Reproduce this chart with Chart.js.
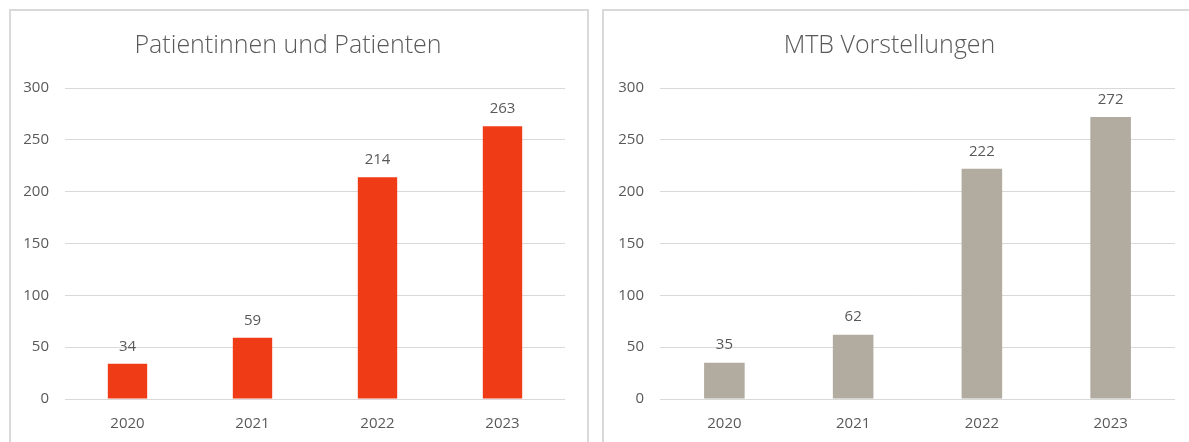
<!DOCTYPE html>
<html>
<head>
<meta charset="utf-8">
<script src="https://cdn.jsdelivr.net/npm/chart.js@4"></script>
<style>
    body { margin: 0; background: #fff; width: 1189px; height: 442px; overflow: hidden; position: relative; }
    .panel { position: absolute; border: 2px solid #d9d9d9; border-bottom: none; box-sizing: border-box; }
    #panelLeft { left: 9px; top: 9px; width: 580px; height: 440px; }
    #panelRight { left: 602px; top: 9px; width: 600px; height: 440px; border-right: none; }
    canvas { position: absolute; }
    #patientsChart { left: 11px; top: 11px; }
    #mtbChart { left: 604px; top: 11px; }
</style>
</head>
<body>
<div class="panel" id="panelLeft"></div>
<div class="panel" id="panelRight"></div>
<canvas id="patientsChart" width="575" height="431"></canvas>
<canvas id="mtbChart" width="585" height="431"></canvas>

<script>
const years = ['2020', '2021', '2022', '2023'];
const patients = [34, 59, 214, 263];
const mtbPresentations = [35, 62, 222, 272];
const yTicks = [0, 50, 100, 150, 200, 250, 300];

const fontFamily = "'Open Sans', 'Noto Sans', sans-serif";
const textColor = '#595959';

// draws the value above each bar
const valueLabels = {
    id: 'valueLabels',
    afterDatasetsDraw(chart) {
        const ctx = chart.ctx;
        ctx.save();
        ctx.font = '15px ' + fontFamily;
        ctx.fillStyle = textColor;
        ctx.textAlign = 'center';
        ctx.textBaseline = 'bottom';
        chart.getDatasetMeta(0).data.forEach((bar, i) => {
            ctx.fillText(chart.data.datasets[0].data[i], bar.x, bar.y - 10);
        });
        ctx.restore();
    }
};

function makeChart(id, title, values, color, axisWidth, padRight) {
    return new Chart(document.getElementById(id), {
        type: 'bar',
        data: {
            labels: years,
            datasets: [{
                data: values,
                backgroundColor: color,
                categoryPercentage: 1,
                barPercentage: 0.315
            }]
        },
        options: {
            responsive: false,
            animation: false,
            layout: { padding: { left: 0, right: padRight, top: 0, bottom: 0 } },
            plugins: {
                legend: { display: false },
                tooltip: { enabled: false },
                title: {
                    display: true,
                    text: title,
                    color: textColor,
                    font: { family: fontFamily, size: 25, weight: '300' },
                    padding: { top: 20, bottom: 27 }
                }
            },
            scales: {
                x: {
                    grid: { display: false },
                    border: { display: false },
                    ticks: { color: textColor, font: { family: fontFamily, size: 15 }, padding: 8 },
                    afterFit: s => { s.height = 43; }
                },
                y: {
                    min: 0,
                    max: 300,
                    afterBuildTicks: s => { s.ticks = yTicks.map(v => ({ value: v })); },
                    grid: { color: '#d9d9d9', drawTicks: false },
                    border: { display: false },
                    ticks: { color: textColor, font: { family: fontFamily, size: 15 }, padding: 16 },
                    afterFit: s => { s.width = axisWidth; }
                }
            }
        },
        plugins: [valueLabels]
    });
}

makeChart('patientsChart', 'Patientinnen und Patienten', patients, '#f03c16', 54, 21);
makeChart('mtbChart', 'MTB Vorstellungen', mtbPresentations, '#b1aba0', 56, 14);
</script>
</body>
</html>
